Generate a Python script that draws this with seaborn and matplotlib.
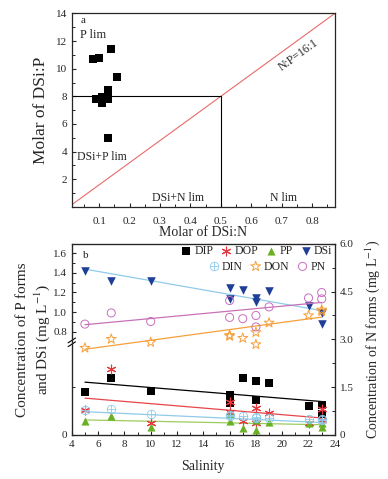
import numpy as np
import matplotlib
matplotlib.use("Agg")
import matplotlib.pyplot as plt
from matplotlib.ticker import FixedLocator, MultipleLocator
import seaborn as sns

# panel a: molar ratios
dsi_n = [0.08, 0.10, 0.14, 0.16, 0.13, 0.13, 0.09, 0.11, 0.11, 0.11, 0.13, 0.13]
dsi_p = [10.72, 10.81, 11.46, 9.42, 8.49, 8.25, 7.84, 7.95, 7.75, 7.55, 7.82, 4.97]
redfield_x = [0.01, 0.875]

# panel b: salinity vs concentrations
sal_dip = [5, 7, 10, 16, 16, 17, 18, 18, 19, 22, 23, 23]
dip = [0.088, 0.117, 0.091, 0.083, 0.066, 0.117, 0.112, 0.072, 0.107, 0.059, 0.061, 0.044]
sal_dop = [5, 7, 10, 16, 16, 17, 18, 18, 19, 22, 23, 23]
dop = [0.051, 0.136, 0.024, 0.067, 0.048, 0.029, 0.055, 0.024, 0.045, 0.025, 0.054, 0.031]
sal_pp = [5, 7, 10, 16, 16, 17, 18, 18, 19, 22, 23, 23]
pp = [0.029, 0.040, 0.017, 0.043, 0.028, 0.015, 0.030, 0.010, 0.026, 0.024, 0.024, 0.017]
sal_dsi = [5, 7, 10, 16, 16, 17, 18, 18, 19, 22, 23, 23]
dsi = [1.415, 1.318, 1.318, 1.245, 1.13, 1.225, 1.142, 1.10, 1.215, 1.062, 0.99, 0.88]

sal_n = [5, 7, 10, 16, 16, 17, 18, 18, 19, 22, 23, 23]
din = [0.78, 0.82, 0.65, 0.62, 0.60, 0.58, 0.55, 0.53, 0.52, 0.51, 0.50, 0.48]
don = [2.73, 3.01, 2.91, 3.13, 3.10, 3.04, 3.22, 2.84, 3.52, 3.75, 3.93, 3.88]
pn = [3.48, 3.83, 3.56, 4.22, 3.69, 3.65, 3.75, 3.39, 4.02, 4.30, 4.47, 4.27]

# fitted trend lines, read at salinity 5 and 23
fit_x = [5, 23]
fit_dip = [0.109, 0.069]
fit_dop = [0.076, 0.035]
fit_pp = [0.031, 0.021]
fit_dsi = [1.437, 1.016]
fit_din = [0.73, 0.39]
fit_don = [2.69, 3.70]
fit_pn = [3.46, 4.16]

sns.set_style("ticks")
plt.rcParams["font.family"] = ["Liberation Serif", "DejaVu Serif"]
plt.rcParams["mathtext.fontset"] = "stix"
plt.rcParams["xtick.direction"] = "in"
plt.rcParams["ytick.direction"] = "in"

fig = plt.figure(figsize=(3.88, 4.79), dpi=100)
ax1 = fig.add_axes([0.185, 0.568, 0.678, 0.404])
ax2 = fig.add_axes([0.185, 0.092, 0.678, 0.399])
for ax in (ax1, ax2):
    for s in ax.spines.values():
        s.set_visible(True)
        s.set_linewidth(0.9)

# ---- panel a
sns.scatterplot(x=dsi_n, y=dsi_p, marker="s", s=26, color="black",
                edgecolor="black", linewidth=0, ax=ax1, zorder=3)
sns.lineplot(x=redfield_x, y=[16 * v for v in redfield_x], color="#e86a6a",
             linewidth=0.8, ax=ax1)
ax1.plot([0.01, 0.5], [8, 8], color="black", lw=0.8)
ax1.plot([0.5, 0.5], [0, 8], color="black", lw=0.8)
ax1.set_xlim(0.01, 0.875)
ax1.set_ylim(0, 14)
ax1.xaxis.set_major_locator(FixedLocator([0.1, 0.2, 0.3, 0.4, 0.5, 0.6, 0.7, 0.8]))
ax1.xaxis.set_minor_locator(MultipleLocator(0.05))
ax1.yaxis.set_major_locator(FixedLocator([2, 4, 6, 8, 10, 12, 14]))
ax1.yaxis.set_minor_locator(MultipleLocator(1))
ax1.tick_params(labelsize=8, length=3, width=0.8)
ax1.tick_params(axis="x", pad=7)
ax1.tick_params(which="minor", length=2, width=0.7)
ax1.set_xlabel("Molar of DSi:N", fontsize=10, labelpad=0)
ax1.set_ylabel("Molar of DSi:P", fontsize=12.5, labelpad=4.5)
ax1.text(0.04, 13.5, "a", fontsize=8, va="center")
ax1.text(0.037, 12.45, "P lim", fontsize=9, va="center")
ax1.text(0.028, 3.63, "DSi+P lim", fontsize=8.5, va="center")
ax1.text(0.36, 0.67, "DSi+N lim", fontsize=8.5, va="center", ha="center")
ax1.text(0.706, 0.67, "N lim", fontsize=8.5, va="center", ha="center")
ax1.text(0.755, 11.0, "N:P=16:1", fontsize=8.5, va="center", ha="center",
         rotation=36)

# ---- panel b: broken left axis
low_top, up_bot = 0.186, 0.668
s_up = 98.4
s_low = 90.0 / low_top


def fwd(v):
    v = np.asarray(v, dtype=float)
    return np.where(v <= low_top, v * s_low,
                    np.where(v >= up_bot, 90 + (v - up_bot) * s_up, 90.0))


def inv(t):
    t = np.asarray(t, dtype=float)
    return np.where(t <= 90, t / s_low, up_bot + (t - 90) / s_up)


ax2.set_yscale("function", functions=(fwd, inv))
ax2.set_xlim(4, 24)
ax2.set_ylim(0, 1.694)
axr = ax2.twinx()
axr.set_ylim(0, 6.0)

lw = 0.9
sns.lineplot(x=fit_x, y=fit_dip, color="black", lw=lw, ax=ax2)
sns.lineplot(x=fit_x, y=fit_dop, color="#e8454a", lw=lw, ax=ax2)
sns.lineplot(x=fit_x, y=fit_pp, color="#9ccc5c", lw=lw, ax=ax2)
sns.lineplot(x=fit_x, y=fit_dsi, color="#8fcbea", lw=lw, ax=ax2)
sns.lineplot(x=fit_x, y=fit_din, color="#8fcbea", lw=lw, ax=axr)
sns.lineplot(x=fit_x, y=fit_don, color="#f5a03c", lw=lw, ax=axr)
sns.lineplot(x=fit_x, y=fit_pn, color="#c870b8", lw=lw, ax=axr)

sns.scatterplot(x=sal_dip, y=dip, marker="s", s=28, color="black",
                linewidth=0, ax=ax2, label="DIP", zorder=3)
sns.scatterplot(x=sal_dop, y=dop, marker=(6, 2, 0), s=40, color="#e8383d",
                linewidth=0.8, ax=ax2, label="DOP", zorder=3)
sns.scatterplot(x=sal_pp, y=pp, marker="^", s=34, color="#6ab023",
                linewidth=0, ax=ax2, label="PP", zorder=3)
sns.scatterplot(x=sal_dsi, y=dsi, marker="v", s=38, color="#1f3e98",
                linewidth=0, ax=ax2, label="DSi", zorder=3)

sns.scatterplot(x=sal_n, y=din, marker=r"$\oplus$", s=45, color="#8fcbea",
                linewidth=0, ax=axr, label="DIN", zorder=3)
sns.scatterplot(x=sal_n, y=don, marker="*", s=55, facecolor="none",
                edgecolor="#f5a03c", linewidth=0.7, ax=axr, label="DON", zorder=3)
sns.scatterplot(x=sal_n, y=pn, marker="o", s=34, facecolor="none",
                edgecolor="#c870c0", linewidth=0.7, ax=axr, label="PN", zorder=3)

ax2.yaxis.set_major_locator(FixedLocator([0, 0.8, 1.0, 1.2, 1.4, 1.6]))
ax2.yaxis.set_minor_locator(FixedLocator([0.1, 0.9, 1.1, 1.3, 1.5]))
ax2.set_yticklabels(["0", "0.8", "1.0", "1.2", "1.4", "1.6"])
ax2.xaxis.set_major_locator(MultipleLocator(2))
ax2.xaxis.set_minor_locator(MultipleLocator(1))
axr.yaxis.set_major_locator(FixedLocator([0, 1.5, 3.0, 4.5, 6.0]))
axr.yaxis.set_minor_locator(MultipleLocator(0.75))
axr.set_yticklabels(["0", "1.5", "3.0", "4.5", "6.0"])
for a in (ax2, axr):
    a.tick_params(labelsize=8, length=3, width=0.8, direction="in")
    a.tick_params(which="minor", length=2, width=0.7, direction="in")

ax2.set_xlabel("Salinity", fontsize=10, labelpad=8)
ax2.set_ylabel("Concentration of P forms\nand DSi (mg L$^{-1}$)", fontsize=11,
               labelpad=1, linespacing=1.2)
axr.set_ylabel("Concentration of N forms (mg L$^{-1}$)", fontsize=10, labelpad=7)
ax2.text(0.043, 0.94, "b", transform=ax2.transAxes, fontsize=8, va="center")

# axis break marks
for y0 in (0.462, 0.482):
    ax2.plot([-0.014, 0.014], [y0, y0 + 0.025], transform=ax2.transAxes,
             color="black", lw=0.8, clip_on=False)

h1, l1 = ax2.get_legend_handles_labels()
h2, l2 = axr.get_legend_handles_labels()
if ax2.get_legend():
    ax2.get_legend().remove()
if axr.get_legend():
    axr.get_legend().remove()
leg_kw = dict(frameon=False, fontsize=8.5, handletextpad=0.1, columnspacing=0.5,
              handlelength=1.2, borderpad=0.1, borderaxespad=0.1)
leg1 = axr.legend(h1, l1, ncol=4, loc="upper right",
                  bbox_to_anchor=(1.0, 1.005), **leg_kw)
axr.add_artist(leg1)
axr.legend(h2, l2, ncol=3, loc="upper right", bbox_to_anchor=(0.975, 0.925),
           **leg_kw)

fig.savefig("out.png", dpi=100)
